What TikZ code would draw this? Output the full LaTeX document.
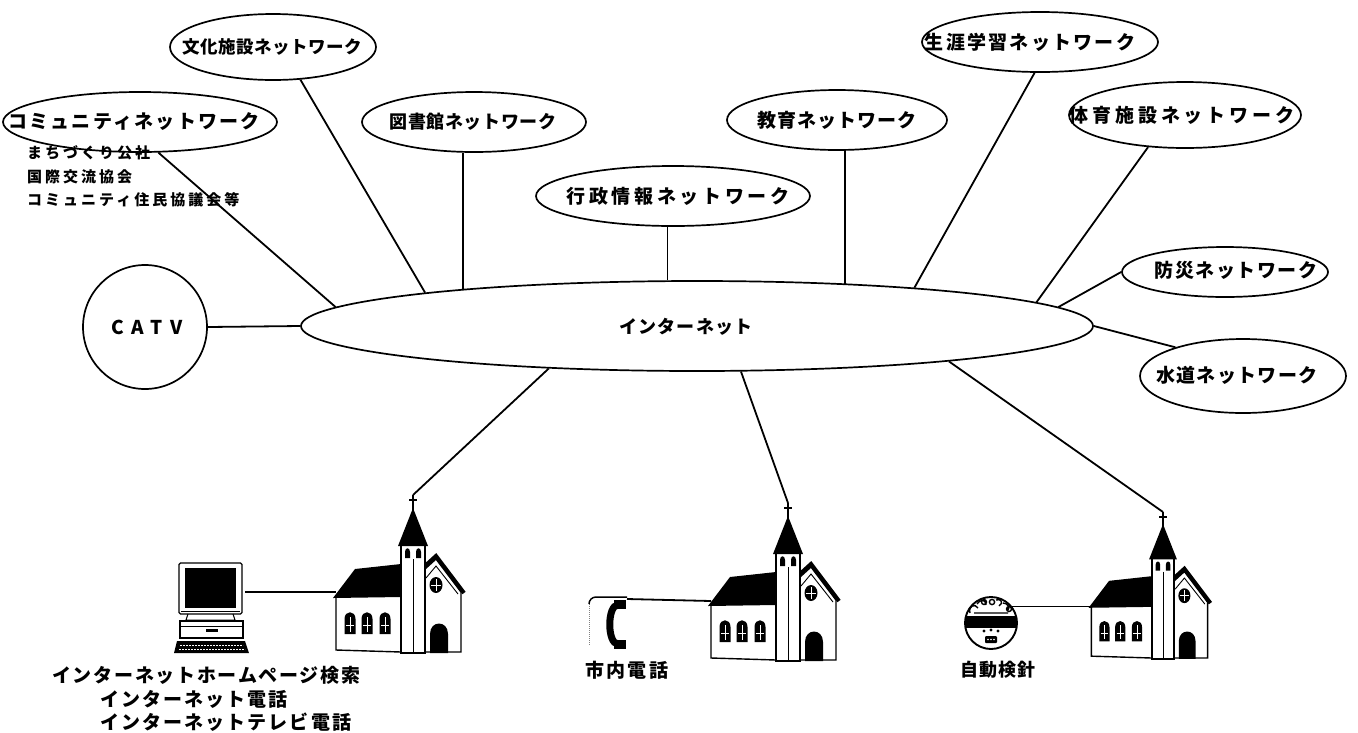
\documentclass[tikz,border=0pt]{standalone}
\usepackage{fontspec}
\setmainfont{Noto Sans CJK JP}
\usetikzlibrary{shapes.geometric}
% tracked (letter-spaced) text
\newcommand\spaced[2]{{\addfontfeature{LetterSpace=#1}#2}}
\newcommand\fsz[1]{\fontsize{#1}{#1}\selectfont\bfseries}

\begin{document}
\begin{tikzpicture}[x=1pt,y=-1pt,
  net/.style={draw, ellipse, inner sep=0pt, line width=1.7pt},
  lbl/.style={inner sep=0pt, font=\fsz{19}},
  sublbl/.style={inner sep=0pt, anchor=west, font=\fsz{15}},
  caption/.style={inner sep=0pt, anchor=west, font=\fsz{19}},
  wire/.style={line width=1.8pt},
  pics/church/.style={code={
    \coordinate (-top) at (0,0);
    \coordinate (-side) at (-77,98);
    % nave wall
    \draw[line width=1.4pt, fill=white] (-77,101) -- (-77,155) -- (-12,157);
    % nave roof
    \fill (-80,103) -- (-58,74) -- (-12,69) -- (-12,102) -- cycle;
    % nave windows
    \foreach \wx in {-63,-46,-28} {
      \fill (\wx-5.5,139) -- (\wx-5.5,124) .. controls (\wx-5.5,115) and (\wx+5.5,115) .. (\wx+5.5,124) -- (\wx+5.5,139) -- cycle;
      \draw[white, line width=0.6pt] (\wx,122) -- (\wx,137) (\wx-4,130) -- (\wx+4,130);
    }
    % gable front
    \draw[line width=1.4pt, fill=white] (12,74) -- (23,64) -- (48,97) -- (48,157) -- (12,157);
    \draw[line width=4pt, line join=miter] (12,71) -- (23,61) -- (51,98);
    \draw[line width=0.9pt] (13,83) -- (23,71) -- (45,99);
    % round window
    \fill (23,90) ellipse (6.5 and 8);
    \draw[white, line width=0.6pt] (23,84) -- (23,96) (18,90) -- (28,90);
    % door
    \fill (17,158) -- (17,139) .. controls (17,125) and (35,125) .. (35,139) -- (35,158) -- cycle;
    % tower
    \draw[line width=1.5pt, fill=white] (-12,50) rectangle (12,158);
    \draw[line width=1pt] (0,64) -- (0,158);
    \fill (-8,63) -- (-8,57) .. controls (-8,52) and (-3,52) .. (-3,57) -- (-3,63) -- cycle;
    \fill (3,63) -- (3,57) .. controls (3,52) and (8,52) .. (8,57) -- (8,63) -- cycle;
    % spire
    \fill (0,13) -- (-15,51) -- (15,51) -- cycle;
    % cross
    \draw[line width=1.7pt] (0,0) -- (0,16) (-4,5) -- (4,5);
  }}]

\useasboundingbox (0,0) rectangle (1358,732);
\fill[white] (0,0) rectangle (1358,732);

% ---- central network ----
\node[net, minimum width=792pt, minimum height=90pt] (inet) at (697,326) {};
\node[lbl, font=\fsz{18}] (inet-t) at (686,327) {\spaced{6}{インターネット}};

% ---- surrounding networks ----
\node[net, minimum width=274pt, minimum height=60pt] (com) at (140,122) {};
\node[lbl] (com-t) at (134,122) {\spaced{12}{コミュニティネットワーク}};
\node[sublbl] (com-a) at (27,153) {\spaced{20}{まちづくり公社}};
\node[sublbl] (com-b) at (27,177) {\spaced{20}{国際交流協会}};
\node[sublbl] (com-c) at (27,200) {\spaced{20}{コミュニティ住民協議会等}};

\node[net, minimum width=206pt, minimum height=66pt] (bunka) at (273,47) {};
\node[lbl, font=\fsz{17.5}] (bunka-t) at (272,47) {\spaced{3}{文化施設ネットワーク}};

\node[net, minimum width=224pt, minimum height=60pt] (tosho) at (474,122) {};
\node[lbl, font=\fsz{18}] (tosho-t) at (473,122) {\spaced{3}{図書館ネットワーク}};

\node[net, minimum width=274pt, minimum height=60pt] (gyosei) at (673,196) {};
\node[lbl] (gyosei-t) at (678,196) {\spaced{19}{行政情報ネットワーク}};

\node[net, minimum width=220pt, minimum height=60pt] (kyoiku) at (837,120) {};
\node[lbl] (kyoiku-t) at (837,120) {\spaced{6}{教育ネットワーク}};

\node[net, minimum width=236pt, minimum height=60pt] (shogai) at (1040,42) {};
\node[lbl] (shogai-t) at (1030,42) {\spaced{12}{生涯学習ネットワーク}};

\node[net, minimum width=232pt, minimum height=66pt] (taiiku) at (1185,115) {};
\node[lbl] (taiiku-t) at (1182,115) {\spaced{20}{体育施設ネットワーク}};

\node[net, minimum width=206pt, minimum height=50pt] (bousai) at (1225,272) {};
\node[lbl] (bousai-t) at (1236,270) {\spaced{8}{防災ネットワーク}};

\node[net, minimum width=206pt, minimum height=74pt] (suido) at (1243,376) {};
\node[lbl] (suido-t) at (1237,375) {\spaced{7}{水道ネットワーク}};

\node[draw, circle, minimum size=124pt, inner sep=0pt, line width=1.7pt] (catv) at (145,327) {};
\node[lbl] (catv-t) at (147,327) {\spaced{40}{CATV}};

% ---- links to the central network ----
\draw[wire] (catv.east) -- (inet.west);
\draw[wire] (com.-59) -- (inet.177);
\draw[wire] (bunka.-50) -- (inet.173.7);
\draw[wire] (tosho.-110) -- (tosho.-110 |- inet.171);
\draw[wire] (gyosei.-100) -- (gyosei.-100 |- inet.north);
\draw[wire] (kyoiku.-75) -- (kyoiku.-75 |- inet.15.7);
\draw[wire] (shogai.-100) -- (inet.10.6);
\draw[wire] (taiiku.-139) -- (inet.4.8);
\draw[wire] (bousai.west) -- (inet.3.3);
\draw[wire] (suido.157) -- (inet.-0.8);

% ---- churches ----
\pic (ch1) at (413,495) {church};
\pic (ch2) at (788,503) {church};
\pic[scale=0.93] (ch3) at (1163,512) {church};

\draw[wire] (inet.-164.4) -- (ch1-top);
\draw[wire] (inet.-46) -- (ch2-top);
\draw[wire] (inet.-8.9) -- (ch3-top);

% ---- personal computer ----
\draw[line width=1.3pt, rounded corners=1.5pt] (179,563) rectangle (242,614);
\fill (185,568) rectangle (236,608);
\draw[line width=0.8pt] (181,611) -- (240,611);
\draw[line width=1pt] (188,614) -- (186,620) -- (235,620) -- (233,614);
\draw[line width=1.3pt] (180,621) rectangle (243,638);
\draw[line width=0.8pt] (180,626) -- (243,626);
\fill (206,629) rectangle (218,632);
\fill (177,641) -- (245,641) -- (249,653) -- (174,653) -- cycle;
\draw[white, line width=1pt, dash pattern=on 2pt off 1pt] (180,645) -- (243,645) (179,649) -- (245,649);
\coordinate (pc-r) at (245,592);
\draw[wire] (pc-r) -- (pc-r -| ch1-side);

\node[caption] (pc-a) at (52,675) {\spaced{9}{インターネットホームページ検索}};
\node[caption] (pc-b) at (100,699) {\spaced{11}{インターネット電話}};
\node[caption] (pc-c) at (100,722) {\spaced{11}{インターネットテレビ電話}};

% ---- telephone ----
\draw[gray, line width=1pt, densely dotted] (589,604) -- (589,645);
\draw[line width=1.5pt] (589,604) to[out=90,in=180] (596,597) -- (627,597);
\coordinate (tel-r) at (627,599);
\draw[wire] (tel-r) -- (ch2-side);
\draw[line width=7pt] (625,605) -- (618,605) .. controls (607,605) and (607,644) .. (618,644) -- (625,644);
\fill (614,600) rectangle (626,609);
\fill (614,640) rectangle (626,649);
\node[caption] (tel-t) at (585,670) {\spaced{12}{市内電話}};

% ---- automatic meter reading ----
\node[draw, circle, minimum size=52pt, inner sep=0pt, line width=1.9pt] (meter) at (991,623) {};
\begin{scope}
  \clip (991,623) circle (26);
  \fill (960,616) rectangle (1022,628);
\end{scope}
\draw[line width=1.4pt] (970,613) .. controls (968,606) and (975,603) .. (978,608)
  (977,604) .. controls (980,599) and (986,599) .. (986,605)
  (984,602) circle (2.5) (992,602) circle (2.6)
  (996,600) .. controls (1001,598) and (1004,603) .. (999,606)
  (1003,603) .. controls (1008,603) and (1011,608) .. (1007,611)
  (1009,609) circle (2.5)
  (974,613) -- (1008,613);
\fill (984,631) circle (1.6) (991,630) circle (1.6) (998,631) circle (1.6);
\fill[rounded corners=1pt] (985,636) rectangle (997,643);
\fill[white] (988,639.5) circle (0.8) (991,639.5) circle (0.8) (994,639.5) circle (0.8);
\draw[wire] (meter.38) -- (meter.38 -| ch3-side);
\node[caption, font=\fsz{18}] (meter-t) at (960,670) {\spaced{6}{自動検針}};

\end{tikzpicture}
\end{document}
